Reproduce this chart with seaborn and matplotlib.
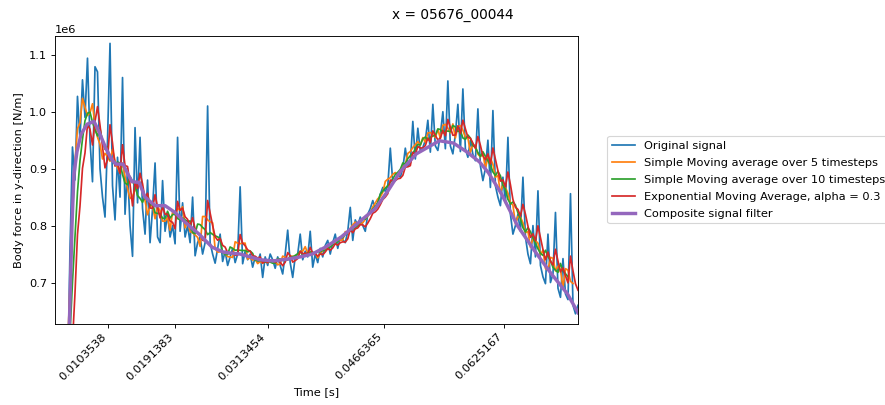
import numpy as np
import pandas as pd
import matplotlib
matplotlib.use("Agg")
import matplotlib.pyplot as plt
import seaborn as sns

# Time range of the sampled signal [s]
t_start, t_end = 0.003373, 0.072196

# Original signal, body force in units of 1e6 N/m
signal = [
    0.05, 0.12, 0.20, 0.30, 0.40, 0.50,
    0.757, 0.938, 0.88, 1.027, 0.95, 1.056, 0.99, 1.094, 0.95, 0.877,
    1.079, 1.07, 0.90, 0.85, 0.815, 0.95, 1.12, 0.87, 0.81, 0.92,
    0.85, 1.06, 0.82, 0.90, 0.80, 0.746, 0.972, 0.84, 0.955, 0.83,
    0.785, 0.88, 0.77, 0.83, 0.91, 0.78, 0.77, 0.879, 0.79, 0.82,
    0.78, 0.80, 0.768, 0.955, 0.79, 0.84, 0.78, 0.80, 0.77, 0.85,
    0.747, 0.77, 0.78, 0.75, 0.77, 1.01, 0.77, 0.75, 0.734, 0.76,
    0.785, 0.737, 0.755, 0.73, 0.745, 0.76, 0.735, 0.75, 0.868, 0.733,
    0.755, 0.74, 0.75, 0.727, 0.745, 0.735, 0.75, 0.709, 0.745, 0.73,
    0.75, 0.74, 0.725, 0.745, 0.73, 0.715, 0.75, 0.792, 0.735, 0.709,
    0.745, 0.75, 0.785, 0.74, 0.755, 0.745, 0.79, 0.727, 0.75, 0.735,
    0.76, 0.745, 0.765, 0.774, 0.75, 0.77, 0.785, 0.76, 0.78, 0.775,
    0.77, 0.79, 0.832, 0.774, 0.81, 0.80, 0.815, 0.80, 0.79, 0.82,
    0.83, 0.844, 0.83, 0.84, 0.855, 0.867, 0.86, 0.87, 0.936, 0.875,
    0.88, 0.89, 0.885, 0.90, 0.936, 0.905, 0.91, 0.983, 0.917, 0.971,
    0.93, 0.937, 0.95, 0.985, 0.929, 1.013, 0.94, 0.932, 0.96, 1.0,
    0.935, 1.054, 0.94, 0.926, 0.96, 1.013, 0.93, 1.04, 0.935, 0.92,
    0.95, 0.925, 0.914, 1.005, 0.905, 0.879, 0.90, 0.95, 0.867, 1.002,
    0.87, 0.85, 0.835, 0.885, 0.84, 0.955, 0.82, 0.785, 0.80, 0.82,
    0.79, 0.885, 0.78, 0.75, 0.733, 0.80, 0.745, 0.861, 0.73, 0.71,
    0.698, 0.785, 0.70, 0.715, 0.823, 0.69, 0.674, 0.742, 0.68, 0.67,
    0.856, 0.66, 0.645, 0.66,
]

# Composite filter, read separately (time [s], force in 1e6 N/m)
comp_time = [
    0.0048216, 0.0052167, 0.0056119, 0.0058753, 0.0062705, 0.0067974,
    0.0075877, 0.0085097, 0.0091683, 0.0100904, 0.0108807, 0.0114076,
    0.0123296, 0.0129882, 0.0135151, 0.0144371, 0.0152274, 0.0165446,
    0.0178618, 0.0191790, 0.0204962, 0.0223403, 0.0240527, 0.0256333,
    0.0277408, 0.0303752, 0.0320876, 0.0339317, 0.0356440, 0.0372247,
    0.0389370, 0.0410446, 0.0432838, 0.0455230, 0.0472354, 0.0488160,
    0.0509236, 0.0539531, 0.0557972, 0.0575096, 0.0592219, 0.0604074,
    0.0621198, 0.0642273, 0.0664665, 0.0687058, 0.0708133, 0.0721963,
]
comp_force = [
    0.40, 0.60, 0.80, 0.89, 0.93, 0.96,
    0.978, 0.983, 0.965, 0.935, 0.915, 0.908,
    0.908, 0.89, 0.877, 0.876, 0.85, 0.835,
    0.835, 0.823, 0.806, 0.785, 0.762, 0.753,
    0.75, 0.74, 0.738, 0.741, 0.745, 0.75,
    0.762, 0.78, 0.805, 0.83, 0.862, 0.895,
    0.926, 0.949, 0.945, 0.93, 0.912, 0.893,
    0.856, 0.80, 0.756, 0.715, 0.68, 0.647,
]

tick_times = [0.0103538, 0.0191383, 0.0313454, 0.0466365, 0.0625167]
tick_labels = ["0.0103538", "0.0191383", "0.0313454", "0.0466365", "0.0625167"]

df = pd.DataFrame({
    "time": np.linspace(t_start, t_end, len(signal)),
    "force": np.array(signal) * 1e6,
})
df["sma5"] = df["force"].rolling(5, center=True).mean()
df["sma10"] = df["force"].rolling(10, center=True).mean()
df["ema"] = df["force"].ewm(alpha=0.3, adjust=False).mean()

DPI = 82
fig, ax = plt.subplots(figsize=(885 / DPI, 405 / DPI), dpi=DPI)

sns.lineplot(data=df, x="time", y="force", ax=ax, color="#1f77b4", label="Original signal")
sns.lineplot(data=df, x="time", y="sma5", ax=ax, color="#ff7f0e",
             label="Simple Moving average over 5 timesteps")
sns.lineplot(data=df, x="time", y="sma10", ax=ax, color="#2ca02c",
             label="Simple Moving average over 10 timesteps")
sns.lineplot(data=df, x="time", y="ema", ax=ax, color="#d62728",
             label="Exponential Moving Average, alpha = 0.3")
sns.lineplot(x=comp_time, y=np.array(comp_force) * 1e6, ax=ax, color="#9467bd",
             linewidth=3, label="Composite signal filter")

ax.set_xlim(t_start, t_end)
ax.set_ylim(0.628e6, 1.133e6)
ax.set_xticks(tick_times)
ax.set_xticklabels(tick_labels, rotation=45, ha="right")
ax.set_xlabel("Time [s]")
ax.set_ylabel("Body force in y-direction [N/m]")
ax.legend(loc="center left", bbox_to_anchor=(1.045, 0.5), labelspacing=0.62)

fig.suptitle("x = 05676_00044", x=0.512)
fig.subplots_adjust(left=0.0621, right=0.6531, top=0.9111, bottom=0.2012)
fig.savefig("out.png", dpi=DPI)
